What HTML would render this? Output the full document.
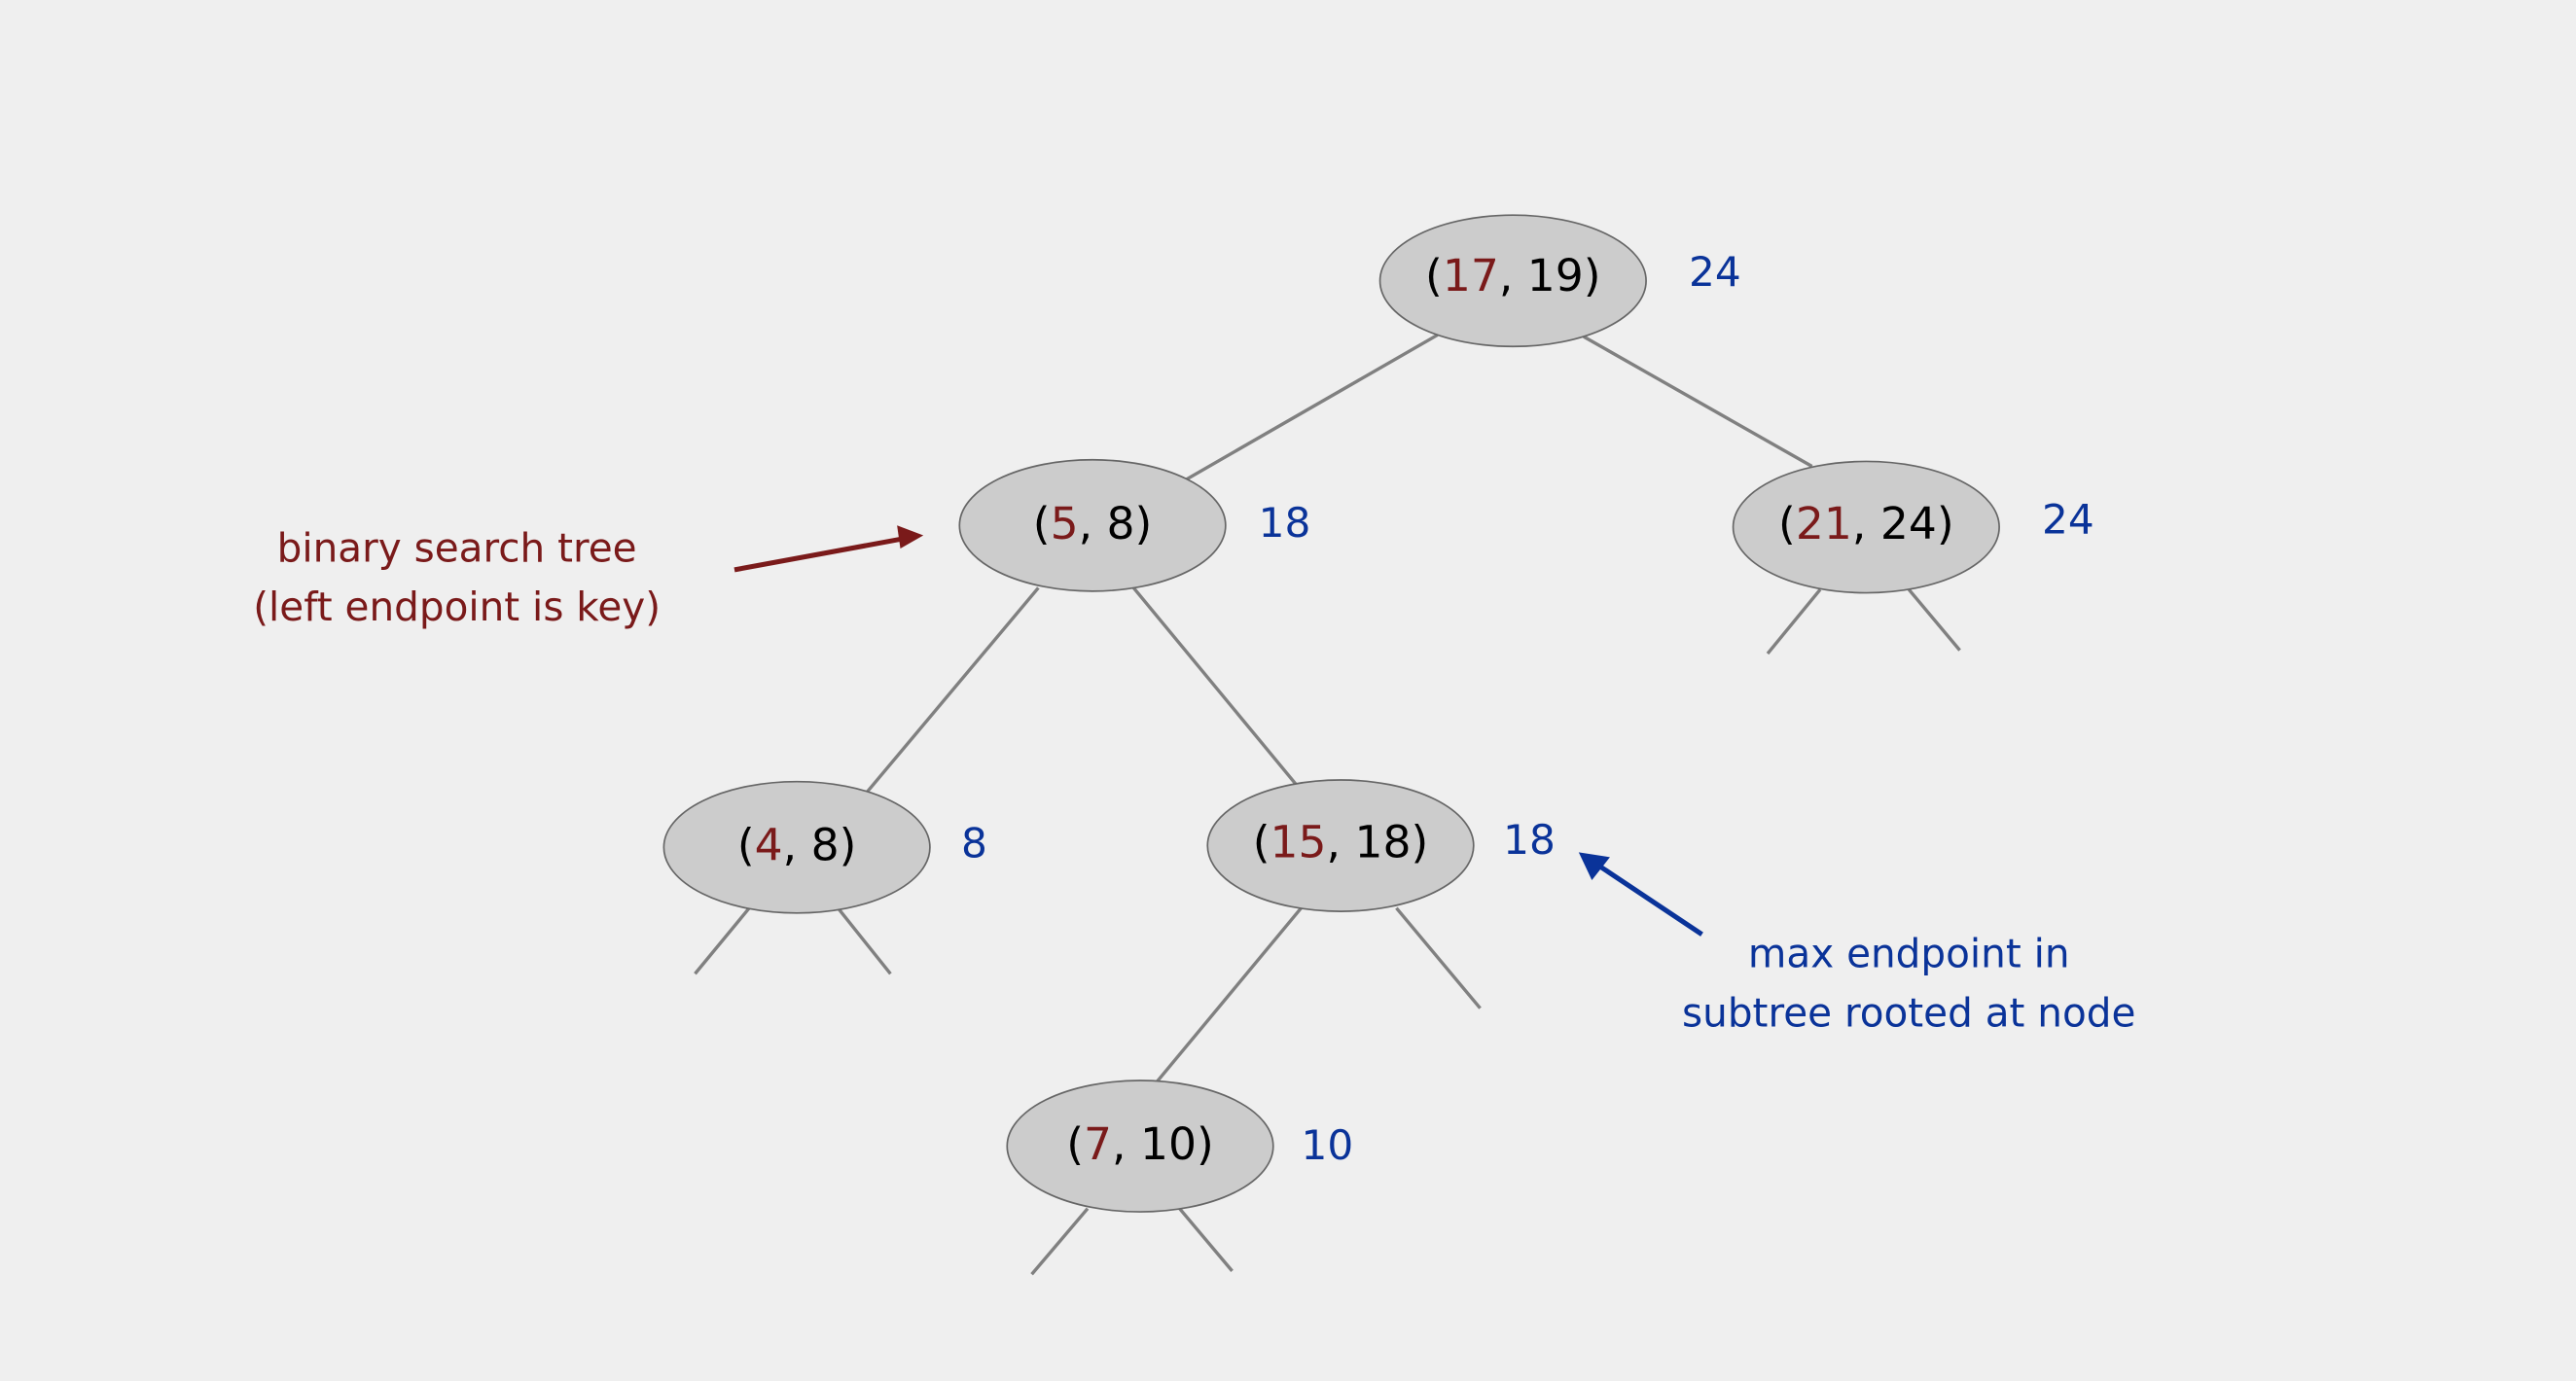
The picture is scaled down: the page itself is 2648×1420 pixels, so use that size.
<!DOCTYPE html>
<html><head><meta charset="utf-8"><style>
html,body{margin:0;padding:0;background:#efefef;}
svg{display:block;}
text{font-family:"DejaVu Sans","Liberation Sans",sans-serif;}
</style></head><body>
<svg width="2648" height="1420" viewBox="0 0 1568 841" xmlns="http://www.w3.org/2000/svg">
<rect width="1568" height="841" fill="#efefef"/>
<g stroke="#808080" stroke-width="2" fill="none">
<line x1="875" y1="204" x2="722" y2="292"/>
<line x1="964" y1="205" x2="1103" y2="284"/>
<line x1="632" y1="358" x2="528" y2="482"/>
<line x1="690" y1="358" x2="790" y2="479"/>
<line x1="1108" y1="359" x2="1076" y2="398"/>
<line x1="1162" y1="359" x2="1193" y2="396"/>
<line x1="456" y1="553" x2="423" y2="593"/>
<line x1="510" y1="553" x2="542" y2="593"/>
<line x1="792" y1="553" x2="704" y2="659"/>
<line x1="850" y1="553" x2="901" y2="614"/>
<line x1="662" y1="736" x2="628" y2="776"/>
<line x1="718" y1="736" x2="750" y2="774"/>
</g>
<g fill="#cccccc" stroke="#666" stroke-width="1">
<ellipse cx="921" cy="171" rx="81" ry="40"/>
<ellipse cx="665" cy="320" rx="81" ry="40"/>
<ellipse cx="1136" cy="321" rx="81" ry="40"/>
<ellipse cx="485" cy="516" rx="81" ry="40"/>
<ellipse cx="816" cy="515" rx="81" ry="40"/>
<ellipse cx="694" cy="698" rx="81" ry="40"/>
</g>
<g font-size="27" text-anchor="middle" fill="#000">
<text x="921" y="177">(<tspan fill="#7a1a1a">17</tspan>, 19)</text>
<text x="665" y="328">(<tspan fill="#7a1a1a">5</tspan>, 8)</text>
<text x="1136" y="328">(<tspan fill="#7a1a1a">21</tspan>, 24)</text>
<text x="485" y="524">(<tspan fill="#7a1a1a">4</tspan>, 8)</text>
<text x="816" y="522">(<tspan fill="#7a1a1a">15</tspan>, 18)</text>
<text x="694" y="706">(<tspan fill="#7a1a1a">7</tspan>, 10)</text>
</g>
<g font-size="25" fill="#0a3399">
<text x="1028" y="174">24</text>
<text x="766" y="327">18</text>
<text x="1243" y="325">24</text>
<text x="585" y="522">8</text>
<text x="915" y="520">18</text>
<text x="792" y="706">10</text>
</g>
<g font-size="24" text-anchor="middle">
<text x="278" y="342" fill="#7a1a1a">binary search tree</text>
<text x="278" y="378" fill="#7a1a1a">(left endpoint is key)</text>
<text x="1162" y="589" fill="#0a3399">max endpoint in</text>
<text x="1162" y="625" fill="#0a3399">subtree rooted at node</text>
</g>
<line x1="447" y1="347" x2="550" y2="328" stroke="#7a1a1a" stroke-width="3"/>
<polygon points="562,326 546,320 548,334" fill="#7a1a1a"/>
<line x1="1036" y1="569" x2="970" y2="525" stroke="#0a3399" stroke-width="3"/>
<polygon points="961,519 980,522 969,536" fill="#0a3399"/>
</svg>
</body></html>
